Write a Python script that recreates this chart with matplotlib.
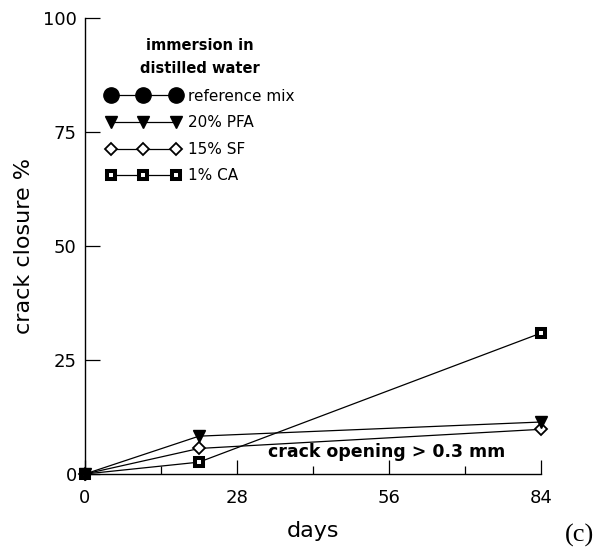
import matplotlib
matplotlib.use("Agg")
import matplotlib.pyplot as plt
from matplotlib.ticker import MultipleLocator

# crack closure (%) vs. days, immersion in distilled water
days = [0, 21, 84]
ref_days = []      # reference mix: no closure points shown
ref_mix = []
pfa_20 = [0.0, 8.3, 11.4]
sf_15 = [0.0, 5.6, 9.8]
ca_1 = [0.0, 2.6, 30.9]

labels = ["reference mix", "20% PFA", "15% SF", "1% CA"]

W, H = 597, 556
fig = plt.figure(figsize=(W / 100, H / 100), dpi=100)
ax = fig.add_axes([85 / W, 1 - 474 / H, (541 - 85) / W, (474 - 18) / H])

lw = 0.9
h_ref, = ax.plot(ref_days, ref_mix, color="black", lw=lw, marker="o", ms=11,
                 mfc="black", mec="black", clip_on=False, zorder=3)
h_pfa, = ax.plot(days, pfa_20, color="black", lw=lw, marker="v", ms=9,
                 mfc="black", mec="black", clip_on=False, zorder=5)
h_sf, = ax.plot(days, sf_15, color="black", lw=lw, marker="D", ms=6.5,
                mfc="white", mec="black", mew=1.3, clip_on=False, zorder=3)
h_ca, = ax.plot(days, ca_1, color="black", lw=lw, marker="s", ms=5.8,
                mfc="white", mec="black", mew=2.9, clip_on=False, zorder=4)

ax.set_xlim(0, 84)
ax.set_ylim(0, 100)
ax.xaxis.set_major_locator(MultipleLocator(28))
ax.xaxis.set_minor_locator(MultipleLocator(14))
ax.yaxis.set_major_locator(MultipleLocator(25))

for side in ("top", "right"):
    ax.spines[side].set_visible(False)
for side in ("left", "bottom"):
    ax.spines[side].set_linewidth(1.0)

ax.tick_params(axis="x", which="major", direction="in", length=10, width=0.9,
               pad=11, labelsize=13)
ax.tick_params(axis="x", which="minor", direction="in", length=6, width=0.9)
ax.tick_params(axis="y", which="major", direction="in", length=11, width=0.9,
               pad=6, labelsize=13)

ax.set_xlabel("days", fontsize=16, labelpad=10)
ax.set_ylabel("crack closure %", fontsize=16, labelpad=6)

ax.text(55.6, 4.8, "crack opening > 0.3 mm", fontsize=12.5, fontweight="bold",
        ha="center", va="center")

leg = ax.legend([h_ref, h_pfa, h_sf, h_ca], labels, numpoints=3,
                loc="upper left", bbox_to_anchor=(106 / W, 1 - 38 / H),
                bbox_transform=fig.transFigure, frameon=False,
                borderpad=0, borderaxespad=0, handlelength=4.9,
                handletextpad=0.45, labelspacing=0.76, fontsize=11,
                title="immersion in\ndistilled water",
                title_fontproperties={"weight": "bold", "size": 10.5})
leg.get_title().set_linespacing(1.68)
leg.get_title().set_multialignment("center")
leg._legend_box.align = "center"
leg._legend_box.sep = 9

fig.text(580 / W, 1 - 535 / H, "(c)", fontsize=19, family="Liberation Serif",
         ha="center", va="center")

fig.savefig("out.png", dpi=100)
